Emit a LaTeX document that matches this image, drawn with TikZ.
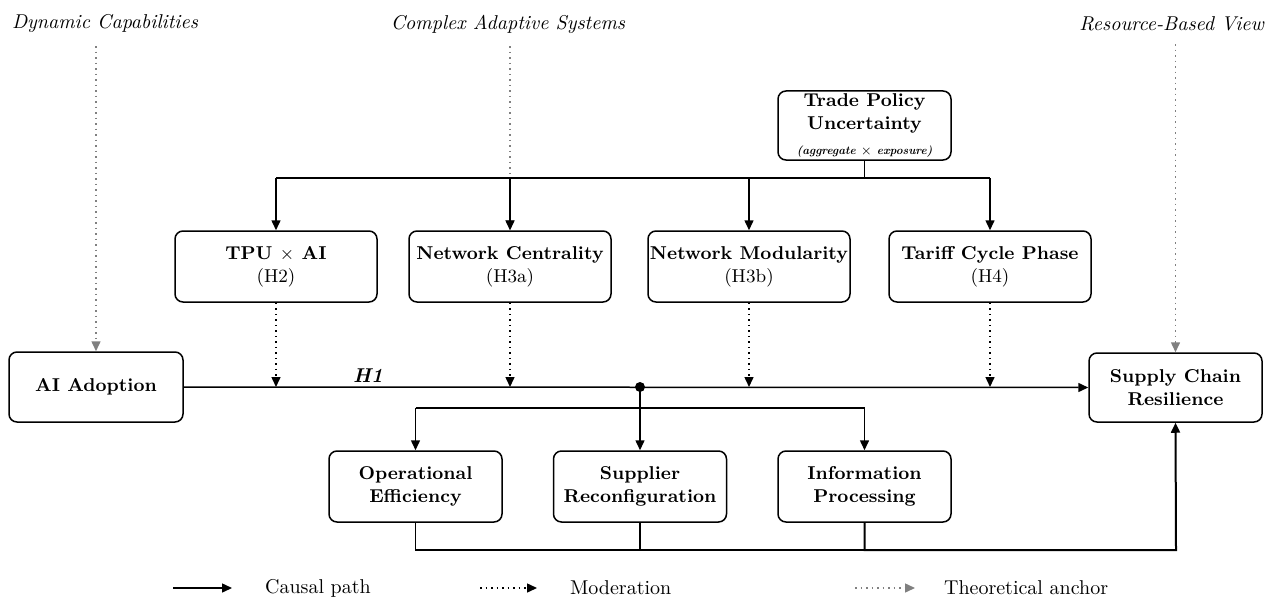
\documentclass[tikz,border=0pt]{standalone}
\usepackage{fontspec}
\usetikzlibrary{arrows.meta}

\begin{document}
\begin{tikzpicture}[x=0.5pt, y=-0.5pt,
		box/.style={draw, line width=0.75pt, rounded corners=4pt, align=center,
			font=\fontsize{9.3}{11.5}\selectfont\bfseries, inner sep=0pt},
		modbox/.style={box, minimum width=101pt, minimum height=35.5pt},
		medbox/.style={box, minimum width=86.5pt, minimum height=35.5pt},
		causal/.style={line width=0.75pt, -{Triangle[length=5pt, width=4.5pt]}},
		moder/.style={line width=0.75pt, dotted, -{Triangle[length=5pt, width=4.5pt]}},
		theoryline/.style={gray, line width=0.75pt, dotted, -{Triangle[length=5pt, width=4.5pt]}},
		theory/.style={font=\fontsize{10}{12}\selectfont\itshape},
		legend/.style={anchor=west, font=\fontsize{10}{12}\selectfont}]
		\useasboundingbox (0,0) rectangle (1279,615);

		% theories on top
		\node[theory] (dc) at (105,24) {Dynamic Capabilities};
		\node[theory] (cas) at (508,24) {Complex Adaptive Systems};
		\node[theory, anchor=east] (rbv) at (1271,24) {Resource-Based View};

		% main nodes
		\node[box, minimum width=86.5pt, minimum height=34.5pt] (tpu) at (864.5,125.5)
			{Trade Policy\\Uncertainty\\[1pt]{\fontsize{5.8}{8}\selectfont\itshape (aggregate $\times$ exposure)}};
		\node[box, minimum width=87pt, minimum height=35pt] (ai) at (96,387) {AI Adoption};
		\node[box, minimum width=86.5pt, minimum height=34.5pt] (scr) at (1175.5,387.5) {Supply Chain\\Resilience};

		% moderators
		\node[modbox] (h2) at (276,266.5) {TPU $\times$ AI\\{\mdseries (H2)}};
		\node[modbox] (h3a) at (510,266.5) {Network Centrality\\{\mdseries (H3a)}};
		\node[modbox] (h3b) at (749,266.5) {Network Modularity\\{\mdseries (H3b)}};
		\node[modbox] (h4) at (990,266.5) {Tariff Cycle Phase\\{\mdseries (H4)}};

		% mediators
		\node[medbox] (oe) at (415.5,486.5) {Operational\\Efficiency};
		\node[medbox] (sr) at (640,486.5) {Supplier\\Reconfiguration};
		\node[medbox] (ip) at (864.5,486.5) {Information\\Processing};

		% theory anchors
		\draw[theoryline] ([yshift=-3pt]ai.north |- dc.south) -- (ai.north);
		\draw[theoryline] ([yshift=-3pt]h3a.north |- cas.south) -- (h3a.north);
		\draw[theoryline] ([yshift=-3pt]scr.north |- rbv.south) -- (scr.north);

		% TPU to moderators
		\coordinate (tbus) at (864.5,178);
		\draw[line width=0.75pt] (tpu.south) -- (tbus);
		\draw[line width=0.75pt] (h2.north |- tbus) -- (h4.north |- tbus);
		\foreach \m in {h2, h3a, h3b, h4}
			\draw[causal] (\m.north |- tbus) -- (\m.north);

		% H1 path
		\draw[causal] (ai.east) -- (scr.west);
		\node[font=\fontsize{10}{12}\selectfont\bfseries\itshape] (h1) at (368,376) {H1};
		\foreach \m in {h2, h3a, h3b, h4}
			\draw[moder] (\m.south) -- (\m.south |- ai.east);

		% mediation
		\coordinate (split) at (640,387);
		\coordinate (bus) at (640,408);
		\fill (split) circle (2.5pt);
		\draw[line width=0.75pt] (split) -- (bus);
		\draw[line width=0.75pt] (oe.north |- bus) -- (ip.north |- bus);
		\foreach \m in {oe, sr, ip}
			\draw[causal] (\m.north |- bus) -- (\m.north);

		\coordinate (ret) at (1176,550);
		\draw[line width=0.75pt] (oe.south) -- (oe.south |- ret) -- (ip.south |- ret);
		\draw[line width=0.75pt] (sr.south) -- (sr.south |- ret);
		\draw[causal, line width=1pt] (ip.south) -- (ip.south |- ret) -- (ret) -- (scr.south);

		% legend
		\coordinate (la1) at (173,588);
		\coordinate (la2) at (232,588);
		\coordinate (lb1) at (480,588);
		\coordinate (lb2) at (537,588);
		\coordinate (lc1) at (855,588);
		\coordinate (lc2) at (915,588);
		\draw[causal] (la1) -- (la2);
		\draw[moder] (lb1) -- (lb2);
		\draw[theoryline] (lc1) -- (lc2);
		\node[legend] (lta) at (258,588) {Causal path};
		\node[legend] (ltb) at (563,588) {Moderation};
		\node[legend] (ltc) at (937,588) {Theoretical anchor};
	\end{tikzpicture}
\end{document}
